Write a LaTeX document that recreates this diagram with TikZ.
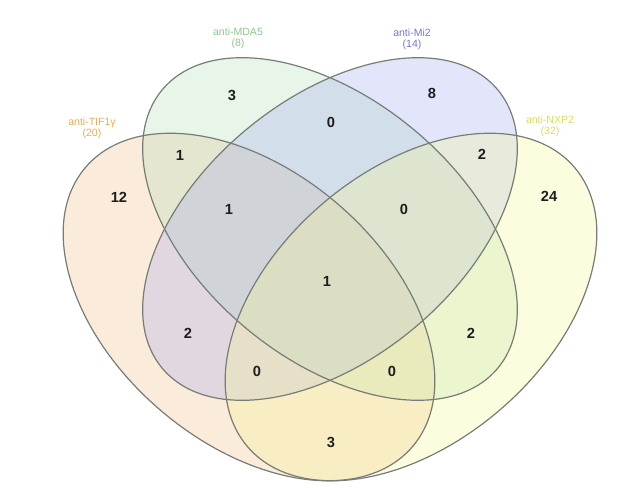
\documentclass[tikz,border=0pt]{standalone}
\usepackage{fontspec}
\setmainfont{Liberation Sans}
\definecolor{colA}{RGB}{242,188,132}
\definecolor{colB}{RGB}{178,222,182}
\definecolor{colC}{RGB}{162,172,242}
\definecolor{colD}{RGB}{245,245,145}
\definecolor{edgegray}{RGB}{118,124,118}
\definecolor{numcol}{RGB}{30,30,30}
\definecolor{labA}{RGB}{240,170,80}
\definecolor{labB}{RGB}{140,200,140}
\definecolor{labC}{RGB}{110,120,220}
\definecolor{labD}{RGB}{215,222,90}
\begin{document}
\begin{tikzpicture}[x=0.75pt,y=-0.75pt,
  setfill/.style={fill=#1, fill opacity=0.3},
  outline/.style={draw=edgegray, line width=0.9pt},
  num/.style={font=\fontsize{11}{13}\selectfont\bfseries, text=numcol, inner sep=0pt},
  lab/.style={font=\fontsize{7.9}{8.3}\selectfont, align=center, inner sep=0pt}]
\useasboundingbox (0,0) rectangle (621,487);
\coordinate (cA) at (249,307);
\coordinate (cD) at (411,307);
\coordinate (cB) at (330,229);
\coordinate (cC) at (330,229);
% fills
\fill[setfill=colA, rotate around={-40.5:(cA)}] (cA) ellipse [x radius=215, y radius=136];
\fill[setfill=colB, rotate around={-39.6:(cB)}] (cB) ellipse [x radius=218, y radius=130];
\fill[setfill=colC, rotate around={39.6:(cC)}] (cC) ellipse [x radius=218, y radius=130];
\fill[setfill=colD, rotate around={40.5:(cD)}] (cD) ellipse [x radius=215, y radius=136];
% outlines
\draw[outline, rotate around={-40.5:(cA)}] (cA) ellipse [x radius=215, y radius=136];
\draw[outline, rotate around={-39.6:(cB)}] (cB) ellipse [x radius=218, y radius=130];
\draw[outline, rotate around={39.6:(cC)}] (cC) ellipse [x radius=218, y radius=130];
\draw[outline, rotate around={40.5:(cD)}] (cD) ellipse [x radius=215, y radius=136];
% set labels
\node[lab, text=labB] (labMDA) at (238,38) {anti-MDA5\\(8)};
\node[lab, text=labC] (labMi) at (412,39) {anti-Mi2\\(14)};
\node[lab, text=labA] (labTIF) at (92,128) {anti-TIF1γ\\(20)};
\node[lab, text=labD] (labNXP) at (550,126) {anti-NXP2\\(32)};
% counts
\node[num] (nA) at (119,197) {12};
\node[num] (nB) at (232,95) {3};
\node[num] (nC) at (432,93) {8};
\node[num] (nD) at (549,196) {24};
\node[num] (nAB) at (180,155) {1};
\node[num] (nBC) at (331,122) {0};
\node[num] (nCD) at (482,154) {2};
\node[num] (nABC) at (229,209) {1};
\node[num] (nBCD) at (404,209) {0};
\node[num] (nABCD) at (327,281) {1};
\node[num] (nAC) at (188,333) {2};
\node[num] (nBD) at (471,333) {2};
\node[num] (nACD) at (257,371) {0};
\node[num] (nABD) at (392,371) {0};
\node[num] (nAD) at (331,442) {3};
\end{tikzpicture}
\end{document}
